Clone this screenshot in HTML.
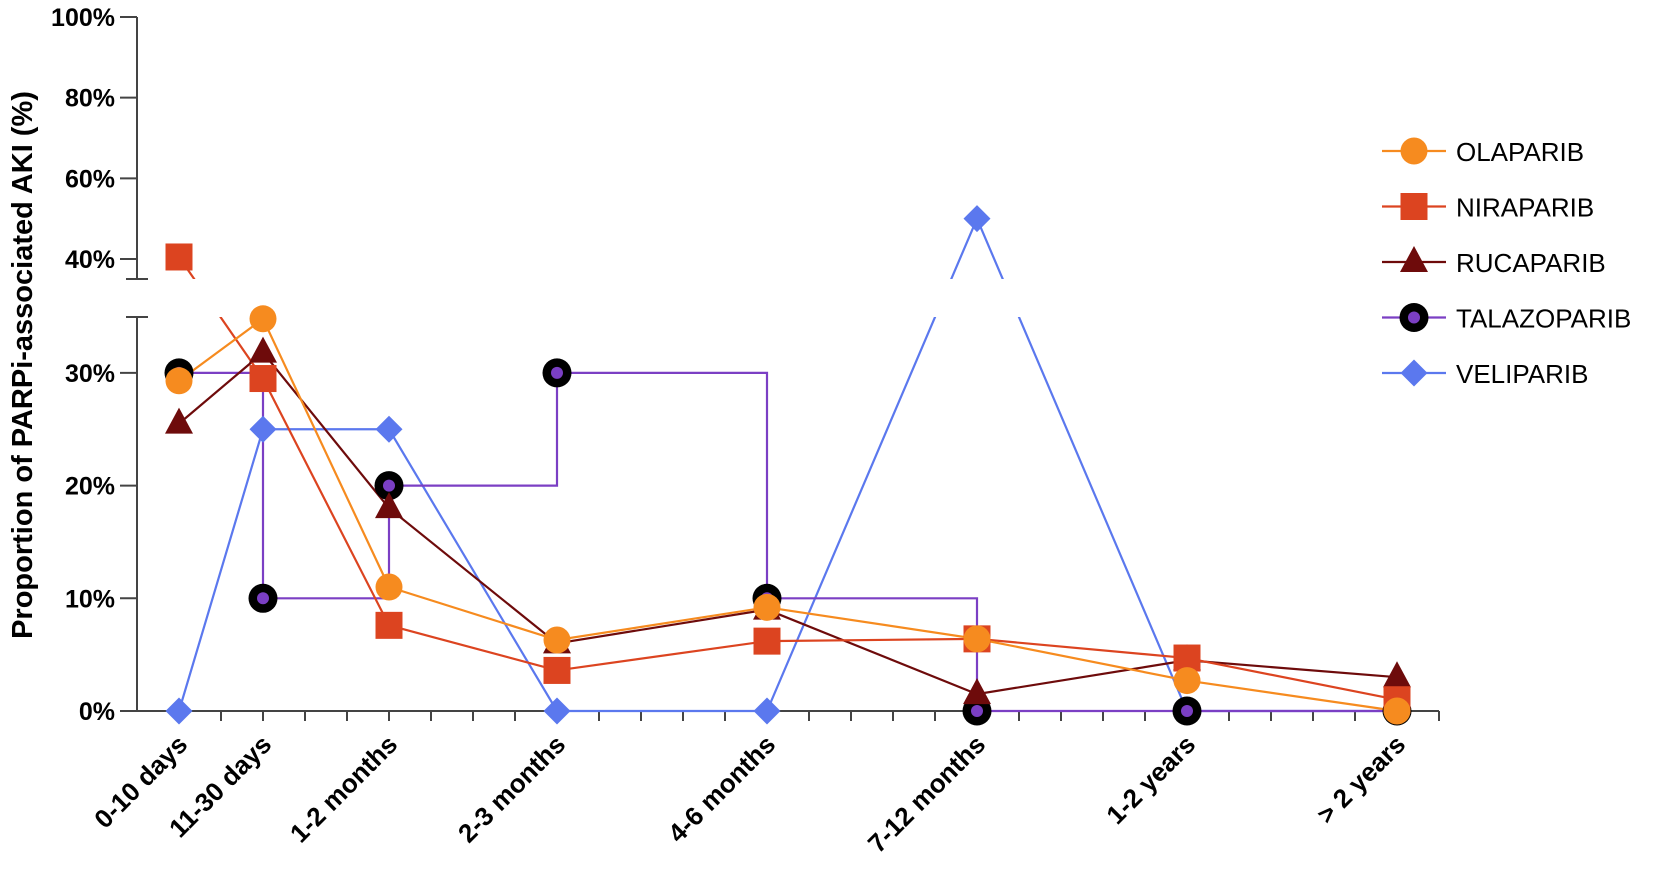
<!DOCTYPE html>
<html><head><meta charset="utf-8"><style>
html,body{margin:0;padding:0;background:#fff;}
svg text{font-family:"Liberation Sans",Arial,sans-serif;}
</style></head><body>
<svg id="chart" width="1655" height="873" viewBox="0 0 1655 873" xmlns="http://www.w3.org/2000/svg">
<defs>
<clipPath id="breakClip"><rect x="0" y="0" width="1655" height="279"/><rect x="0" y="317" width="1655" height="556"/></clipPath>
</defs>
<g id="axes"></g>
<g id="lines" clip-path="url(#breakClip)"></g>
<g id="marks"></g>
<g id="legend"></g>
<text transform="translate(32,365) rotate(-90)" text-anchor="middle" font-size="29" font-weight="bold">Proportion of PARPi-associated AKI (%)</text>
</svg>
<script>
const categories = ["0-10 days","11-30 days","1-2 months","2-3 months","4-6 months","7-12 months","1-2 years","> 2 years"];
const catPos = [0,2,5,9,14,19,24,29];
const olaparib = [29.3,34.8,11,6.3,9.2,6.4,2.7,0];
const niraparib = [40.5,29.5,7.6,3.6,6.2,6.4,4.7,1];
const rucaparib = [25.5,31.8,18,6,9,1.5,4.5,3];
const talazoparib = [30,10,20,30,10,0,0,0];
const veliparib = [0,25,25,0,0,50,0,0];
const lowerTicks = [0,10,20,30];
const upperTicks = [40,60,80,100];
const NS="http://www.w3.org/2000/svg";
function X(u){return 179+u*42;}
function Y(v){return v<=35 ? 711-v*11.27 : 259-(v-40)*4.033;}
function mk(tag,attrs,parent){const e=document.createElementNS(NS,tag);for(const k in attrs)e.setAttribute(k,attrs[k]);parent.appendChild(e);return e;}
const axes=document.getElementById('axes'),lines=document.getElementById('lines'),marks=document.getElementById('marks'),legend=document.getElementById('legend');
const ax={stroke:"#444","stroke-width":2};
let e;
e=mk('line',Object.assign({x1:137,y1:Y(100),x2:137,y2:279},ax),axes);


e=mk('line',Object.assign({x1:137,y1:317,x2:137,y2:711},ax),axes);


mk('line',Object.assign({x1:126,y1:279,x2:148,y2:279},ax),axes);
mk('line',Object.assign({x1:126,y1:317,x2:148,y2:317},ax),axes);
e=mk('line',Object.assign({x1:120,y1:711,x2:X(30),y2:711},ax),axes);


for(let u=1;u<=30;u++){mk('line',Object.assign({x1:X(u),y1:711,x2:X(u),y2:721},ax),axes);}
lowerTicks.concat(upperTicks).forEach(v=>{
 mk('line',Object.assign({x1:120,y1:Y(v),x2:137,y2:Y(v)},ax),axes);
 const t=mk('text',{x:115,y:Y(v)+9,"text-anchor":"end","font-size":25,"font-weight":"bold"},axes);
 t.textContent=v+"%";
 
 
});
categories.forEach((c,i)=>{
 const x=X(catPos[i])+10,y=746;
 const t=mk('text',{transform:`translate(${x},${y}) rotate(-45)`,"text-anchor":"end","font-size":26,"font-weight":"bold"},axes);
 t.textContent=c;
 
 
});
const series=[
 {name:"VELIPARIB",data:veliparib,color:"#5B78EE",shape:"diamond",step:false},
 {name:"TALAZOPARIB",data:talazoparib,color:"#7B3FC4",shape:"ring",step:true},
 {name:"RUCAPARIB",data:rucaparib,color:"#6E0B0B",shape:"triangle",step:false},
 {name:"NIRAPARIB",data:niraparib,color:"#DC4420",shape:"square",step:false},
 {name:"OLAPARIB",data:olaparib,color:"#F68B1F",shape:"circle",step:false}
];
function marker(shape,color,x,y,parent){
 if(shape==="circle")return mk('circle',{cx:x,cy:y,r:13.5,fill:color},parent);
 if(shape==="square")return mk('rect',{x:x-13.5,y:y-13.5,width:27,height:27,fill:color},parent);
 if(shape==="triangle")return mk('polygon',{points:`${x},${y-16} ${x+14},${y+10} ${x-14},${y+10}`,fill:color},parent);
 if(shape==="diamond")return mk('polygon',{points:`${x},${y-13.5} ${x+13.5},${y} ${x},${y+13.5} ${x-13.5},${y}`,fill:color},parent);
 const g=mk('g',{},parent);
 mk('circle',{cx:x,cy:y,r:14.5,fill:"#000"},g);
 mk('circle',{cx:x,cy:y,r:6,fill:color},g);
 return g;
}
series.forEach(s=>{
 let d="";
 s.data.forEach((v,i)=>{
  const x=X(catPos[i]),y=Y(v);
  if(i===0)d+=`M${x},${y}`;
  else if(s.step)d+=`H${x}V${y}`;
  else d+=`L${x},${y}`;
 });
 const p=mk('path',{d:d,fill:"none",stroke:s.color,"stroke-width":2.2},lines);
 
 
});
series.forEach(s=>{
 s.data.forEach((v,i)=>{
  const m=marker(s.shape,s.color,X(catPos[i]),Y(v),marks);
  
  
 });
});
const legendOrder=["OLAPARIB","NIRAPARIB","RUCAPARIB","TALAZOPARIB","VELIPARIB"];
legendOrder.forEach((n,i)=>{
 const s=series.find(q=>q.name===n);
 const y=151+i*55.5;
 const g=mk('g',{},legend);
 
 
 mk('line',{x1:1382,y1:y,x2:1446,y2:y,stroke:s.color,"stroke-width":2.2},g);
 marker(s.shape,s.color,1414,y,g);
 const t=mk('text',{x:1456,y:y+10,"font-size":26},g);
 t.textContent=n;
});
</script>
</body></html>
